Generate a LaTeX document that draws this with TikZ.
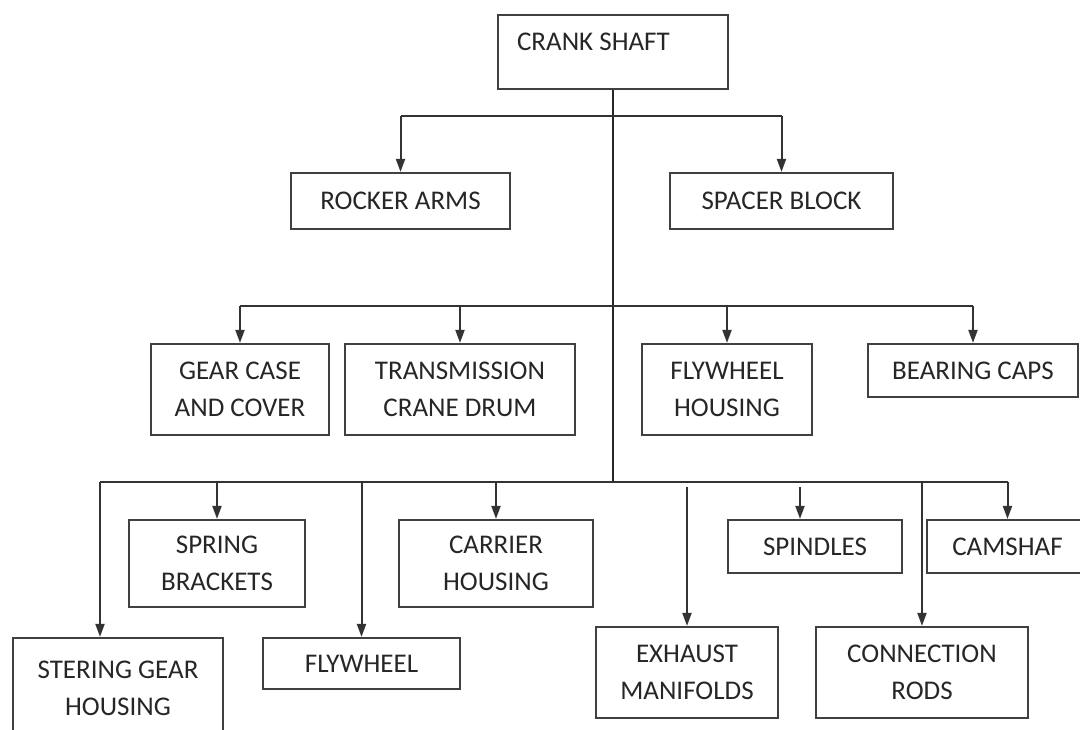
\documentclass[tikz,border=0pt]{standalone}
\usepackage{fontspec}
\setmainfont{Carlito}
\usetikzlibrary{arrows.meta}
\tikzset{
  box/.style={draw=black!75, line width=2.2pt, inner sep=0pt, align=center,
    text=black!85, font=\fontsize{27}{37}\selectfont},
  boxtext/.style={inner sep=0pt, text=black!85, font=\fontsize{27}{37}\selectfont},
  bus/.style={draw=black!80, line width=2.6pt},
  trunk/.style={draw=black!85, line width=1.2pt},
  arrow/.style={draw=black!80, line width=2pt, -{Triangle[length=13pt,width=9pt]}}
}
\begin{document}
\begin{tikzpicture}[x=1pt,y=-1pt]
    \useasboundingbox (0,0) rectangle (1080,729);
    \clip (0,0) rectangle (1080,729);

    % root
    \node[box, minimum width=230pt, minimum height=74pt] (crank) at (613,52) {};
    \node[boxtext, anchor=base west] (cranktext) at ([xshift=20pt,yshift=-37pt]crank.north west) {CRANK SHAFT};

    % first row
    \node[box, minimum width=219pt, minimum height=56pt] (rocker) at (400.5,201) {ROCKER ARMS};
    \node[box, minimum width=223pt, minimum height=56pt] (spacer) at (781.5,201) {SPACER BLOCK};

    % second row
    \node[box, minimum width=178pt, minimum height=91pt] (gear) at (240,389.5) {GEAR CASE\\AND COVER};
    \node[box, minimum width=230pt, minimum height=91pt] (trans) at (460,389.5) {TRANSMISSION\\CRANE DRUM};
    \node[box, minimum width=170pt, minimum height=91pt] (flyhouse) at (727,389.5) {FLYWHEEL\\HOUSING};
    \node[box, minimum width=210pt, minimum height=53pt] (bearing) at (973,370.5) {BEARING CAPS};

    % third row
    \node[box, minimum width=176pt, minimum height=87pt] (spring) at (217,563.5) {SPRING\\BRACKETS};
    \node[box, minimum width=194pt, minimum height=87pt] (carrier) at (496,563.5) {CARRIER\\HOUSING};
    \node[box, minimum width=174pt, minimum height=53pt] (spindles) at (815,546.5) {SPINDLES};
    \node[box, minimum width=161pt, minimum height=53pt] (camshaf) at (1007.5,546.5) {CAMSHAF};

    % fourth row
    \node[box, minimum width=210pt, minimum height=100pt] (stering) at (118,688) {STERING GEAR\\HOUSING};
    \node[box, minimum width=197pt, minimum height=51pt] (flywheel) at (361.5,663.5) {FLYWHEEL};
    \node[box, minimum width=182pt, minimum height=91pt] (exhaust) at (687,672.5) {EXHAUST\\MANIFOLDS};
    \node[box, minimum width=212pt, minimum height=91pt] (conn) at (922,672.5) {CONNECTION\\RODS};

    % bus levels on the trunk
    \coordinate (j1) at (613,116);
    \coordinate (j2) at (613,306);
    \coordinate (j3) at (613,482);
    \coordinate (stertop) at ([xshift=-18pt]stering.north);
    \coordinate (spintop) at ([xshift=-15pt]spindles.north);

    % trunk
    \draw[trunk] (crank.south) -- (j3);

    % buses
    \draw[bus] (rocker.north |- j1) -- (spacer.north |- j1);
    \draw[bus] (gear.north |- j2) -- (bearing.north |- j2);
    \draw[bus] (stertop |- j3) -- (camshaf.north |- j3);

    % arrows to first row
    \draw[arrow] (rocker.north |- j1) -- (rocker.north);
    \draw[arrow] (spacer.north |- j1) -- (spacer.north);

    % arrows to second row
    \draw[arrow] (gear.north |- j2) -- (gear.north);
    \draw[arrow] (trans.north |- j2) -- (trans.north);
    \draw[arrow] (flyhouse.north |- j2) -- (flyhouse.north);
    \draw[arrow] (bearing.north |- j2) -- (bearing.north);

    % arrows to third row
    \draw[arrow] (spring.north |- j3) -- (spring.north);
    \draw[arrow] (carrier.north |- j3) -- (carrier.north);
    \draw[arrow] ([yshift=-5pt]spintop |- j3) -- (spintop);
    \draw[arrow] (camshaf.north |- j3) -- (camshaf.north);

    % arrows to fourth row
    \draw[arrow] (stertop |- j3) -- (stertop);
    \draw[arrow] (flywheel.north |- j3) -- (flywheel.north);
    \draw[arrow] ([yshift=-5pt]exhaust.north |- j3) -- (exhaust.north);
    \draw[arrow] (conn.north |- j3) -- (conn.north);
\end{tikzpicture}
\end{document}
